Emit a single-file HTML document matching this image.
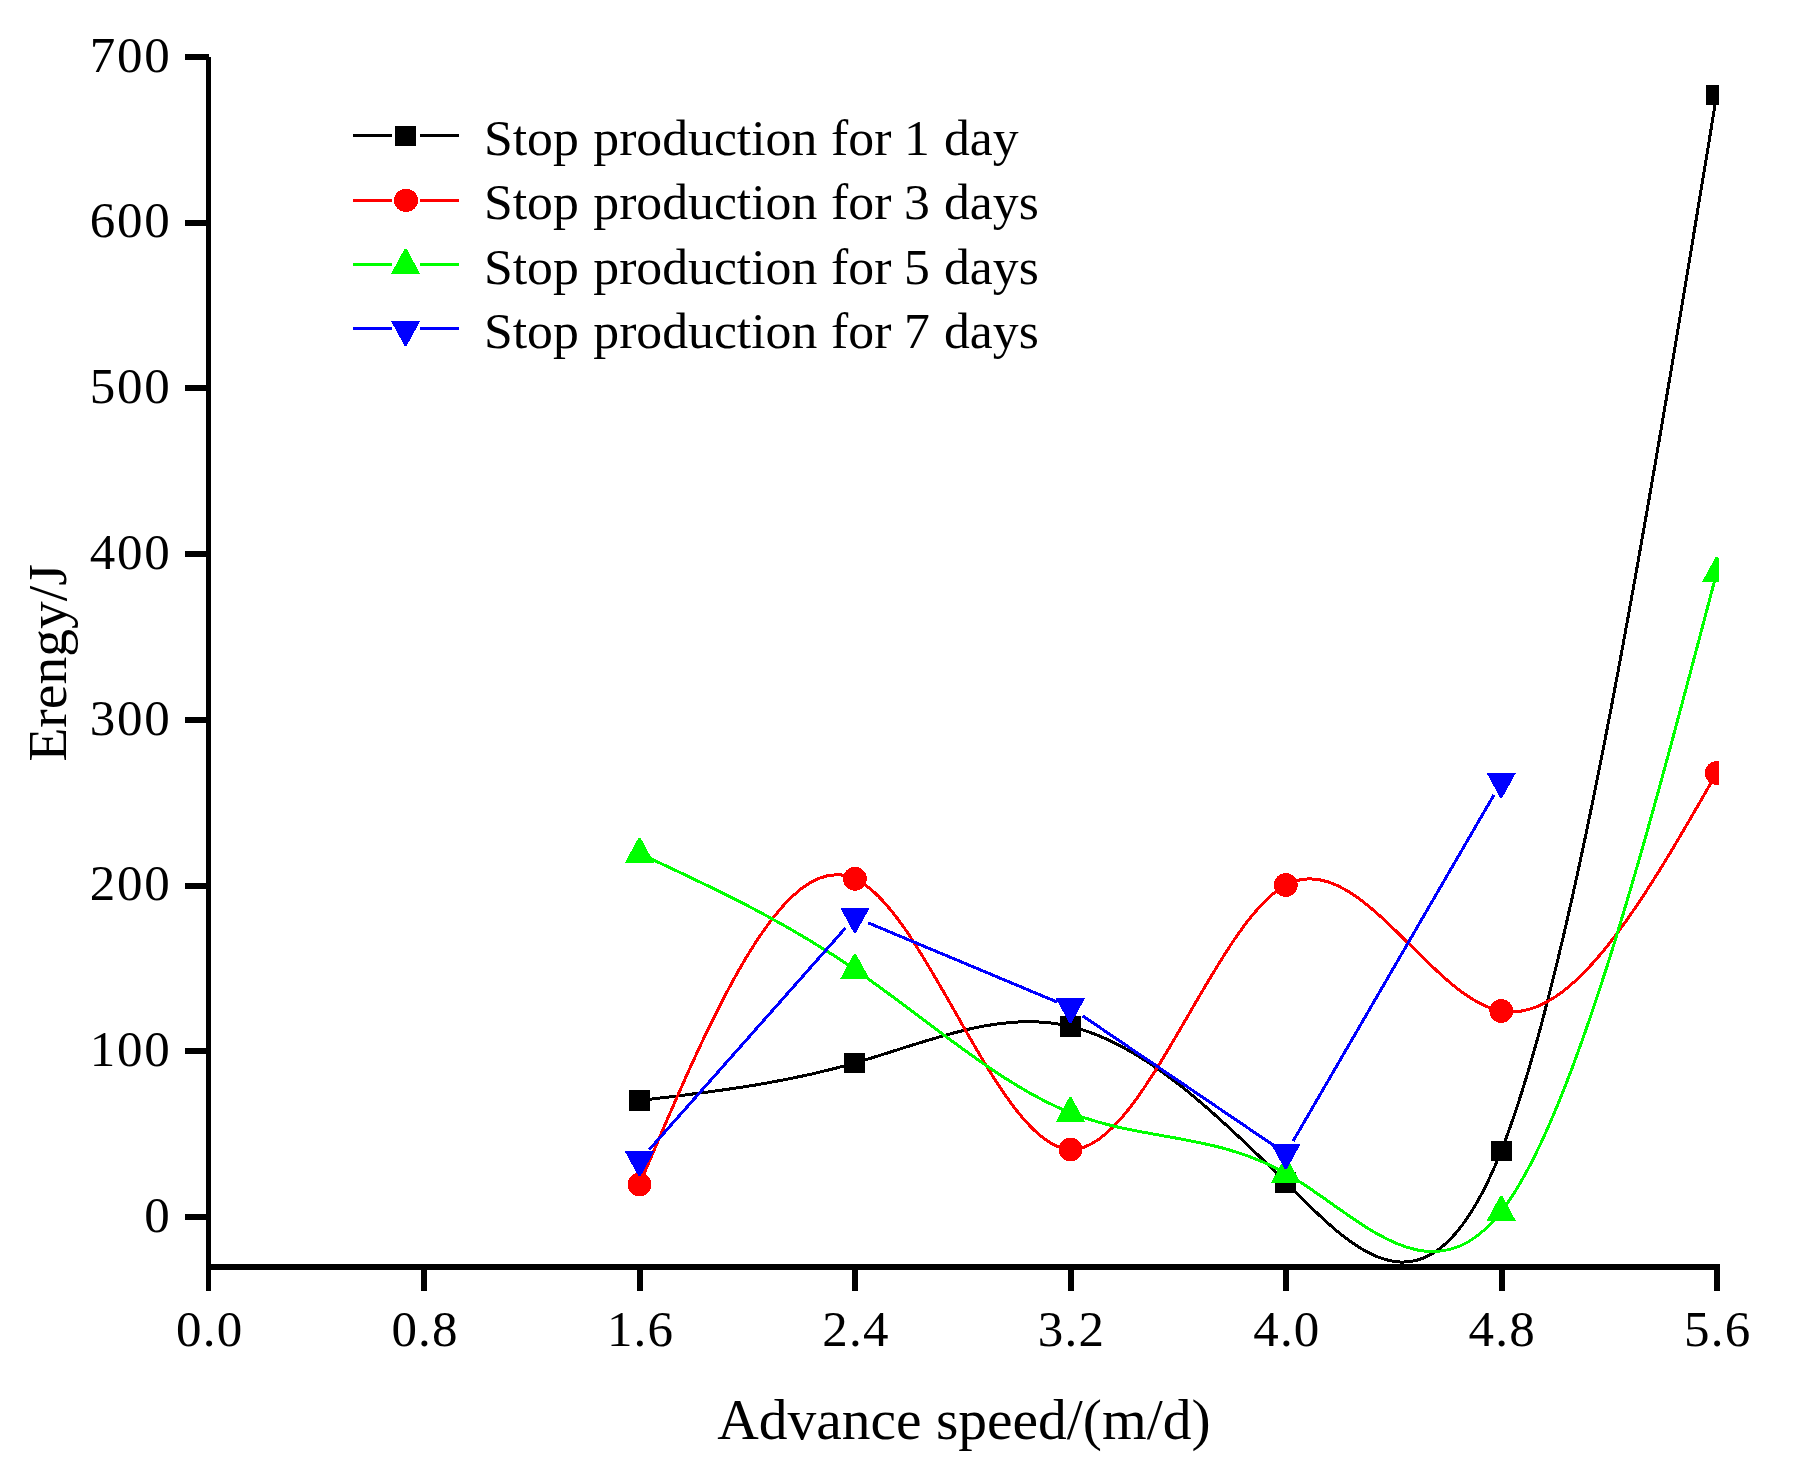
<!DOCTYPE html>
<html><head><meta charset="utf-8"><title>Chart</title>
<style>
html,body{margin:0;padding:0;background:#fff}
svg{display:block}
text{font-family:"Liberation Serif","Times New Roman",serif;fill:#000}
.t{font-size:51px;letter-spacing:1.2px}
.ty{font-size:51px;letter-spacing:1.8px}
.l{font-size:51.7px}
</style></head><body>
<svg width="1798" height="1468" viewBox="0 0 1798 1468">
<rect width="1798" height="1468" fill="#fff"/>
<defs><clipPath id="cp"><rect x="206" y="40" width="1513" height="1230"/></clipPath></defs>

<g clip-path="url(#cp)" shape-rendering="crispEdges">
<path d="M639.48 1100.50 C711.29 1092.09 783.11 1083.69 854.92 1063.00 C926.73 1042.31 998.55 1009.35 1070.36 1026.40 C1142.17 1043.45 1213.99 1110.53 1285.80 1182.50 C1357.61 1254.47 1429.43 1331.33 1501.24 1150.90 C1573.05 970.47 1644.87 532.73 1716.68 95.00" fill="none" stroke="#000000" stroke-width="3.0"/>
<rect x="629.0" y="1090.1" width="21" height="20.8" fill="#000000"/>
<rect x="844.4" y="1052.6" width="21" height="20.8" fill="#000000"/>
<rect x="1059.9" y="1016.0" width="21" height="20.8" fill="#000000"/>
<rect x="1275.3" y="1172.1" width="21" height="20.8" fill="#000000"/>
<rect x="1490.7" y="1140.5" width="21" height="20.8" fill="#000000"/>
<rect x="1706.2" y="84.6" width="21" height="20.8" fill="#000000"/>
<path d="M639.48 1184.40 C711.29 1015.20 783.11 846.00 854.92 878.80 C926.73 911.60 998.55 1146.40 1070.36 1149.40 C1142.17 1152.40 1213.99 923.61 1285.80 885.00 C1357.61 846.39 1429.43 997.97 1501.24 1011.00 C1573.05 1024.03 1644.87 898.52 1716.68 773.00" fill="none" stroke="#ff0000" stroke-width="3.0"/>
<circle cx="639.5" cy="1184.4" r="11.9" fill="#ff0000"/>
<circle cx="854.9" cy="878.8" r="11.9" fill="#ff0000"/>
<circle cx="1070.4" cy="1149.4" r="11.9" fill="#ff0000"/>
<circle cx="1285.8" cy="885.0" r="11.9" fill="#ff0000"/>
<circle cx="1501.2" cy="1011.0" r="11.9" fill="#ff0000"/>
<circle cx="1716.7" cy="773.0" r="11.9" fill="#ff0000"/>
<path d="M639.48 853.50 C711.29 886.82 783.11 920.15 854.92 969.50 C926.73 1018.85 998.55 1084.24 1070.36 1112.70 C1142.17 1141.16 1213.99 1132.71 1285.80 1173.30 C1357.61 1213.89 1429.43 1303.53 1501.24 1211.60 C1573.05 1119.67 1644.87 846.19 1716.68 572.70" fill="none" stroke="#00ff00" stroke-width="3.0"/>
<polygon points="638.5,837.8 640.5,837.8 654.1,862.8 624.8,862.8" fill="#00ff00"/>
<polygon points="853.9,953.8 855.9,953.8 869.6,978.8 840.3,978.8" fill="#00ff00"/>
<polygon points="1069.4,1097.0 1071.4,1097.0 1085.0,1122.0 1055.7,1122.0" fill="#00ff00"/>
<polygon points="1284.8,1157.6 1286.8,1157.6 1300.5,1182.6 1271.1,1182.6" fill="#00ff00"/>
<polygon points="1500.2,1195.9 1502.2,1195.9 1515.9,1220.9 1486.6,1220.9" fill="#00ff00"/>
<polygon points="1715.7,557.0 1717.7,557.0 1731.3,582.0 1702.0,582.0" fill="#00ff00"/>
<line x1="649.1" y1="1149.8" x2="845.3" y2="928.2" stroke="#0000ff" stroke-width="3.0"/>
<line x1="868.3" y1="922.9" x2="1057.0" y2="1002.0" stroke="#0000ff" stroke-width="3.0"/>
<line x1="1082.4" y1="1015.7" x2="1273.8" y2="1145.5" stroke="#0000ff" stroke-width="3.0"/>
<line x1="1293.1" y1="1141.1" x2="1494.0" y2="794.8" stroke="#0000ff" stroke-width="3.0"/>
<polygon points="638.5,1176.3 640.5,1176.3 654.1,1151.3 624.8,1151.3" fill="#0000ff"/>
<polygon points="853.9,932.9 855.9,932.9 869.6,907.9 840.3,907.9" fill="#0000ff"/>
<polygon points="1069.4,1023.2 1071.4,1023.2 1085.0,998.2 1055.7,998.2" fill="#0000ff"/>
<polygon points="1284.8,1169.2 1286.8,1169.2 1300.5,1144.2 1271.1,1144.2" fill="#0000ff"/>
<polygon points="1500.2,797.9 1502.2,797.9 1515.9,772.9 1486.6,772.9" fill="#0000ff"/>
</g>
<g fill="#000" shape-rendering="crispEdges">
<rect x="206" y="57" width="5" height="1213"/>
<rect x="206" y="1264" width="1514" height="6"/>
<rect x="185" y="1214.0" width="24" height="6"/>
<rect x="185" y="1048.3" width="24" height="6"/>
<rect x="185" y="882.6" width="24" height="6"/>
<rect x="185" y="716.9" width="24" height="6"/>
<rect x="185" y="551.1" width="24" height="6"/>
<rect x="185" y="385.4" width="24" height="6"/>
<rect x="185" y="219.7" width="24" height="6"/>
<rect x="185" y="54.0" width="24" height="6"/>
<rect x="206" y="1267" width="5" height="23.5"/>
<rect x="421.3" y="1267" width="6" height="23.5"/>
<rect x="636.8" y="1267" width="6" height="23.5"/>
<rect x="852.3" y="1267" width="6" height="23.5"/>
<rect x="1067.8" y="1267" width="6" height="23.5"/>
<rect x="1283.3" y="1267" width="6" height="23.5"/>
<rect x="1498.8" y="1267" width="6" height="23.5"/>
<rect x="1714.3" y="1267" width="6" height="23.5"/>
</g>
<g class="ty">
<text x="171.6" y="1231.7" text-anchor="end">0</text>
<text x="171.6" y="1066.0" text-anchor="end">100</text>
<text x="171.6" y="900.3" text-anchor="end">200</text>
<text x="171.6" y="734.6" text-anchor="end">300</text>
<text x="171.6" y="568.8" text-anchor="end">400</text>
<text x="171.6" y="403.1" text-anchor="end">500</text>
<text x="171.6" y="237.4" text-anchor="end">600</text>
<text x="171.6" y="71.7" text-anchor="end">700</text>
</g><g class="t">
<text x="209.7" y="1346" text-anchor="middle">0.0</text>
<text x="425.1" y="1346" text-anchor="middle">0.8</text>
<text x="640.6" y="1346" text-anchor="middle">1.6</text>
<text x="856.0" y="1346" text-anchor="middle">2.4</text>
<text x="1071.5" y="1346" text-anchor="middle">3.2</text>
<text x="1286.9" y="1346" text-anchor="middle">4.0</text>
<text x="1502.3" y="1346" text-anchor="middle">4.8</text>
<text x="1717.8" y="1346" text-anchor="middle">5.6</text>
</g>
<text x="963.9" y="1438.5" text-anchor="middle" font-size="57.5">Advance speed/(m/d)</text>
<text transform="translate(66.4 662.9) rotate(-90)" text-anchor="middle" font-size="55.5">Erengy/J</text>
<g shape-rendering="crispEdges">
<rect x="353" y="134" width="39" height="3" rx="1.5" fill="#000000"/>
<rect x="420" y="134" width="39" height="3" rx="1.5" fill="#000000"/>
<rect x="395.1" y="125.8" width="21" height="20" fill="#000000"/>
<rect x="353" y="199" width="39" height="3" rx="1.5" fill="#ff0000"/>
<rect x="420" y="199" width="39" height="3" rx="1.5" fill="#ff0000"/>
<ellipse cx="406" cy="200.4" rx="12" ry="11.6" fill="#ff0000"/>
<rect x="353" y="263" width="39" height="3" rx="1.5" fill="#00ff00"/>
<rect x="420" y="263" width="39" height="3" rx="1.5" fill="#00ff00"/>
<polygon points="404.6,248.8 406.6,248.8 420.2,273.8 391.0,273.8" fill="#00ff00"/>
<rect x="353" y="327" width="39" height="3" rx="1.5" fill="#0000ff"/>
<rect x="420" y="327" width="39" height="3" rx="1.5" fill="#0000ff"/>
<polygon points="404.6,346.0 406.6,346.0 420.2,321.0 391.0,321.0" fill="#0000ff"/>
</g>
<g class="l">
<text y="155.2"><tspan x="484.0">Stop</tspan><tspan x="593.3">production</tspan><tspan x="831.1">for</tspan><tspan x="904.0">1</tspan><tspan x="944.0">day</tspan></text>
<text y="219.4"><tspan x="484.0">Stop</tspan><tspan x="593.3">production</tspan><tspan x="831.1">for</tspan><tspan x="904.0">3</tspan><tspan x="944.0">days</tspan></text>
<text y="283.5"><tspan x="484.0">Stop</tspan><tspan x="593.3">production</tspan><tspan x="831.1">for</tspan><tspan x="904.0">5</tspan><tspan x="944.0">days</tspan></text>
<text y="347.7"><tspan x="484.0">Stop</tspan><tspan x="593.3">production</tspan><tspan x="831.1">for</tspan><tspan x="904.0">7</tspan><tspan x="944.0">days</tspan></text>
</g>
</svg></body></html>
